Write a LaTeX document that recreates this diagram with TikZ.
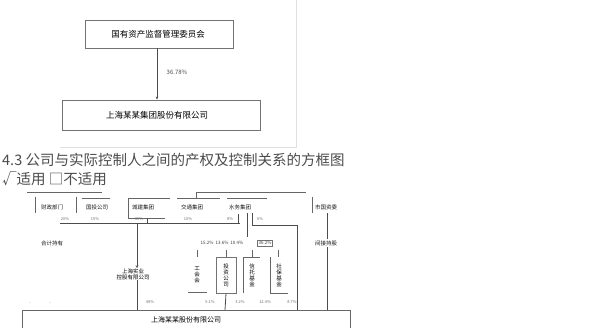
\documentclass[tikz,border=0pt]{standalone}
\usepackage{fontspec}
\setmainfont{Noto Sans CJK SC}
\usetikzlibrary{arrows.meta}
\begin{document}
\begin{tikzpicture}[x=1pt,y=-1pt,
  ln/.style={draw=black!70,line width=0.8pt},
  thin/.style={draw=black!60,line width=0.6pt},
  tbox/.style={draw=black!55,line width=0.9pt,fill=white,inner sep=0pt},
  tx/.style={font=\fontsize{8.5}{10}\selectfont,text=black,inner sep=0pt},
  sx/.style={font=\fontsize{5.5}{6.5}\selectfont,text=black!90,inner sep=0pt},
  px/.style={font=\fontsize{4}{5}\selectfont,text=black!55,inner sep=0pt},
  vx/.style={font=\fontsize{5.5}{6}\selectfont,text=black,inner sep=0pt,align=center},
  hd/.style={font=\fontsize{14.5}{16}\selectfont,text=black!70,inner sep=0pt,anchor=west}]
\useasboundingbox (0,0) rectangle (601,327);
\fill[white] (0,0) rectangle (601,327);
% ---- frame of the first picture
\draw[black!12,line width=0.8pt] (60,147) -- (296,147) -- (296,0);
% ---- first picture
\node[tbox,minimum width=148pt,minimum height=28pt] (p1) at (159,34) {};
\node[tx] (p1t) at (158,34) {国有资产监督管理委员会};
\node[tbox,minimum width=198pt,minimum height=30pt] (p2) at (161,115) {};
\node[tx] (p2t) at (157,115) {上海某某集团股份有限公司};
\draw[ln,-{Stealth[length=3pt,width=2.5pt]}] (p1.south -| 157,0) -- (p2.north -| 157,0);
\node[sx,font=\fontsize{6}{7}\selectfont,text=black!70] (p12) at (177,72) {36.78\%};
% ---- headings
\node[hd] (h1) at (2,160) {4.3 公司与实际控制人之间的产权及控制关系的方框图};
\node[hd] (h2) at (2,179) {√适用\ □不适用};
% ---- second picture
\coordinate (tl1) at (27,192); \coordinate (tl2) at (102,192);
\draw[thin] (tl1) -- (tl2);
\coordinate (tb1) at (196,192); \coordinate (tb2) at (306,192);
\coordinate (tb0) at (196,198);
\draw[thin] (tb0) -- (tb1) -- (tb2);
% row of top boxes
\node[sx] (b1) at (52,207) {财政部门};
\node[sx] (b2) at (97,207) {国投公司};
\node[sx] (b3) at (143,207) {城建集团};
\node[sx] (b4) at (192,207) {交通集团};
\node[sx] (b5) at (240,207) {水务集团};
\node[sx] (b6) at (326,207) {市国资委};
\draw[thin] (35,197) -- (35,213);
\draw[thin] (76,197) -- (76,213);
\draw[thin] (312,197) -- (312,213);
\draw[thin] (82,198) -- (110,198);
\draw[thin] (177,198) -- (220,198);
\draw[thin] (227,198) -- (267,198);
\draw[thin] (165,218) -- (128,218) -- (128,198) -- (170,198);
% percentage labels over the joining line
\node[px] (q1) at (65,219) {20\%};
\node[px] (q2) at (95,219) {15\%};
\node[px] (q3) at (139,219) {35\%};
\node[px] (q4) at (188,219) {10\%};
\node[px] (q5) at (230,219) {8\%};
\node[px] (q6) at (260,219) {6\%};
\coordinate (j1) at (60,223); \coordinate (j2) at (240,223);
\draw[ln] (j1) -- (j2);
\draw[ln] (147,218) -- (147,223);
\draw[ln] (238,214) -- (238,223);
\draw[ln] (247,213) -- (247,237);
\coordinate (r1) at (252,213); \coordinate (r2) at (252,225); \coordinate (r3) at (297,225); \coordinate (r4) at (297,310);
\draw[ln] (r1) -- (r2) -- (r3) -- (r4);
\draw[ln] (327,213) -- (327,310);
% middle nodes
\node[vx] (m1) at (133,274) {上海实业\\控股有限公司};
\draw[ln,-{Stealth[length=3pt,width=2.5pt]}] (137,223) -- (m1.north -| 137,0);
\node[sx] (lft) at (52,243) {合计持有};
\node[sx,fill=white,inner sep=1pt] (rgt) at (326,243) {间接持股};
\node[px,font=\fontsize{4.5}{5}\selectfont,text=black!75] (mid) at (222,243) {15.2\%\ \ 13.6\%\ \ 10.4\%};
\node[px,font=\fontsize{4.5}{5}\selectfont,text=black!75,draw=black!55,inner sep=1pt] (midb) at (265,243) {36.2\%};
% vertical text boxes
\node[vx] (v1) at (197,275) {工\\会\\会};
\draw[thin] (188,292) -- (207,292);
\node[draw=black!55,line width=0.8pt,minimum width=20pt,minimum height=36pt,inner sep=0pt] (v2) at (226,275) {};
\node[vx] (v2t) at (v2) {投\\资\\公\\司};
\draw[thin] (243,293) -- (243,257) -- (260,257);
\node[vx] (v3) at (252,275) {信\\托\\基\\金};
\draw[thin] (270,257) -- (270,293) -- (288,293);
\node[vx] (v4) at (279,275) {社\\保\\基\\金};
\draw[thin] (197,250) -- (197,257);
\draw[thin] (v2.north) -- ++(0,-7);
\draw[thin] (252,250) -- (252,257);
\draw[thin] (278,250) -- (278,257);
\draw[ln] (v2.south) -- (225,310);
\draw[ln] (m1.south -| 137,0) -- (137,310);
% lower percentage labels
\node[px] (l1) at (150,302) {48\%};
\node[px] (l2) at (210,302) {5.1\%};
\node[px] (l3) at (240,302) {3.2\%};
\node[px] (l4) at (265,302) {12.4\%};
\node[px] (l5) at (292,302) {8.7\%};
\node[px] (l6) at (30,304) {-};
\node[px] (l7) at (50,304) {-};
% bottom box
\node[draw=black!60,line width=0.9pt,minimum width=328pt,minimum height=24pt,inner sep=0pt,anchor=north west] (bt) at (22,310) {};
\node[sx,font=\fontsize{7}{8}\selectfont,text=black] (btt) at (186,320) {上海某某股份有限公司};
\end{tikzpicture}
\end{document}
